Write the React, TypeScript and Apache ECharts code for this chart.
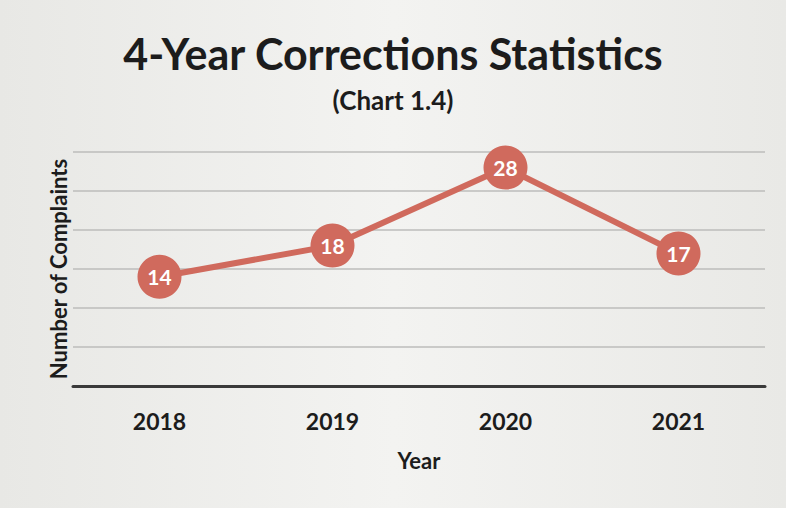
import React, { useEffect, useRef } from "react";
import * as echarts from "echarts";

const years = ["2018", "2019", "2020", "2021"];
const complaints = [14, 18, 28, 17];
const yMin = 0;
const yMax = 30;
const yStep = 5;

const FONT = "Lato, 'Open Sans', sans-serif";

export default function App() {
  const ref = useRef<HTMLDivElement>(null);
  useEffect(() => {
    if (!ref.current) return;
    const chart = echarts.init(ref.current, undefined, { renderer: "svg" });
    chart.setOption({
      animation: false,
      backgroundColor: {
        type: "linear",
        x: 0,
        y: 0,
        x2: 1,
        y2: 0,
        colorStops: [
          { offset: 0, color: "#e8e8e5" },
          { offset: 0.5, color: "#f3f3f1" },
          { offset: 1, color: "#e9e9e6" },
        ],
      },
      title: [
        {
          text: "4-Year Corrections Statistics",
          left: "center",
          top: 27,
          textStyle: { fontFamily: FONT, fontWeight: "bold", fontSize: 43, color: "#1c1c1c" },
        },
        {
          text: "(Chart 1.4)",
          left: "center",
          top: 82,
          textStyle: { fontFamily: FONT, fontWeight: "bold", fontSize: 26, color: "#1c1c1c" },
        },
      ],
      grid: { left: 73, right: 21, top: 152, bottom: 122, containLabel: false },
      xAxis: {
        type: "category",
        data: years,
        boundaryGap: true,
        name: "Year",
        nameLocation: "middle",
        nameGap: 63,
        nameTextStyle: { fontFamily: FONT, fontWeight: "bold", fontSize: 22, color: "#1c1c1c" },
        axisLine: { lineStyle: { color: "#3a3a3a", width: 3 } },
        axisTick: { show: false },
        axisLabel: { margin: 23, fontFamily: FONT, fontWeight: "bold", fontSize: 23, color: "#1c1c1c" },
      },
      yAxis: {
        type: "value",
        min: yMin,
        max: yMax,
        interval: yStep,
        name: "Number of Complaints",
        nameLocation: "middle",
        nameGap: 4,
        nameTextStyle: { fontFamily: FONT, fontWeight: "bold", fontSize: 22, color: "#1c1c1c" },
        axisLine: { show: false },
        axisTick: { show: false },
        axisLabel: { show: false },
        splitLine: { lineStyle: { color: "#bdbdbb", width: 1.5 } },
      },
      series: [
        {
          type: "line",
          data: complaints,
          symbol: "circle",
          symbolSize: 44,
          lineStyle: { color: "#d06a5d", width: 6 },
          itemStyle: { color: "#d06a5d" },
          label: {
            show: true,
            position: "inside",
            color: "#ffffff",
            fontFamily: FONT,
            fontWeight: "bold",
            fontSize: 21,
          },
        },
      ],
    });
    return () => chart.dispose();
  }, []);
  return (
    <div
      ref={ref}
      style={{ position: "fixed", left: 0, top: 0, width: 786, height: 508 }}
    />
  );
}
